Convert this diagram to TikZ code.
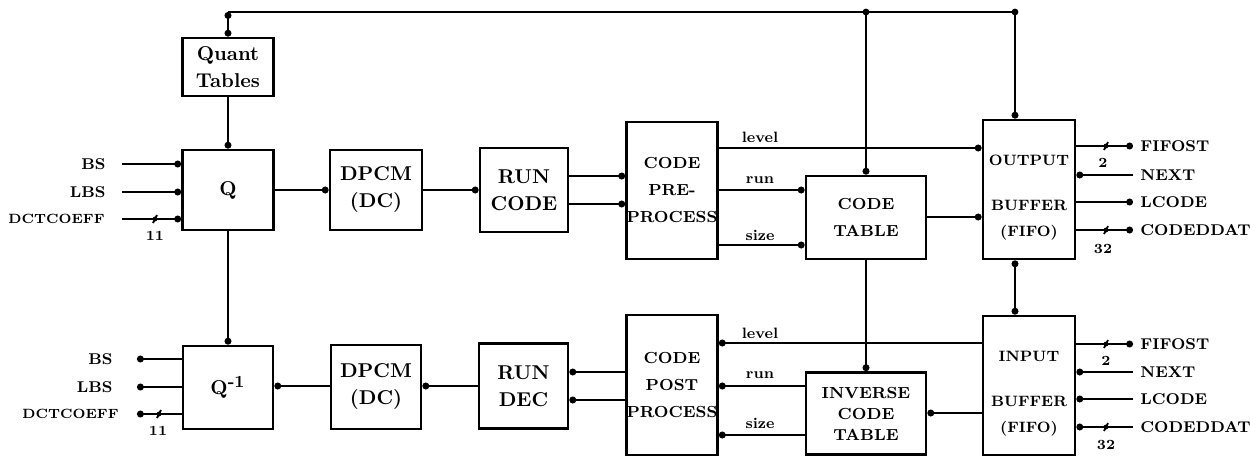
\documentclass[tikz,border=0pt]{standalone}
\usetikzlibrary{arrows.meta}
\begin{document}
\begin{tikzpicture}[x=0.5pt,y=-0.5pt,
  box/.style={draw, line width=1.4pt, inner sep=0pt, align=center, font=\bfseries\fontsize{10}{13.5}\selectfont},
  sbox/.style={box, font=\bfseries\fontsize{8}{13.5}\selectfont},
  wire/.style={line width=1.4pt},
  tip/.style={wire, -{Circle[length=3.4pt]}},
  tips/.style={wire, {Circle[length=3.4pt]}-{Circle[length=3.4pt]}},
  lbl/.style={inner sep=0pt, font=\bfseries\fontsize{7.8}{9}\selectfont},
  sig/.style={inner sep=0pt, font=\bfseries\fontsize{7.5}{9}\selectfont},
  num/.style={inner sep=0pt, font=\bfseries\fontsize{7}{8}\selectfont},
  busmark/.style={line width=0.9pt}
]
\useasboundingbox (0,0) rectangle (1250,457);

% boxes
\node[box, minimum width=45.5pt, minimum height=29pt] (quant) at (228,67) {Quant\\Tables};
\node[box, minimum width=45.5pt, minimum height=40pt] (q) at (228,190) {Q};
\node[box, minimum width=46pt, minimum height=40pt] (dpcm1) at (376,190) {DPCM\\(DC)};
\node[box, minimum width=44pt, minimum height=42pt] (runcode) at (524,190) {RUN\\CODE};
\node[sbox, minimum width=45pt, minimum height=68.5pt] (pre) at (672,190.5) {CODE\\PRE-\\PROCESS};
\node[sbox, minimum width=60pt, minimum height=41.5pt] (ctab) at (866,217.5) {CODE\\TABLE};
\node[sbox, minimum width=46pt, minimum height=69.5pt, font=\bfseries\fontsize{7.5}{13}\selectfont] (obuf) at (1029,189.5) {\rule{0pt}{13pt}OUTPUT\\[9.5pt]BUFFER\\(FIFO)};
\node[sbox, minimum width=46pt, minimum height=69.5pt, font=\bfseries\fontsize{7.5}{13}\selectfont] (ibuf) at (1029,385.5) {\rule{0pt}{13pt}INPUT\\[9.5pt]BUFFER\\(FIFO)};
\node[sbox, minimum width=60pt, minimum height=41pt, font=\bfseries\fontsize{8}{10.5}\selectfont] (ictab) at (866,413.5) {INVERSE\\CODE\\TABLE};
\node[sbox, minimum width=45pt, minimum height=70pt] (post) at (672,385) {CODE\\POST\\PROCESS};
\node[box, minimum width=44.5pt, minimum height=42.5pt] (rundec) at (523.5,386) {RUN\\DEC};
\node[box, minimum width=45pt, minimum height=42pt] (dpcm2) at (376,387) {DPCM\\(DC)};
\node[box, minimum width=45pt, minimum height=41.5pt] (qinv) at (228,387.5) {Q\textsuperscript{\fontsize{8.5}{9}\selectfont-1}};

% top bus
\coordinate (busL) at (228,12);
\coordinate (busM) at (866,12);
\coordinate (busR) at (1015,12);
\draw[wire] (busL) -- (busR);
\draw[tips] (busL) -- (busL |- quant.north);
\fill (busM) circle (1.7pt);
\draw[tip] (busM) -- (busM |- ctab.north);
\fill (busR) circle (1.7pt);
\draw[tip] (busR) -- (busR |- obuf.north);

% vertical links
\draw[tip] (quant.south) -- (q.north);
\draw[tip] (q.south) -- (qinv.north);
\draw[tip] (ctab.south) -- (ictab.north);
\draw[tips] (busR |- obuf.south) -- (busR |- ibuf.north);

% encoder chain
\draw[tip] (q.east) -- (dpcm1.west);
\draw[tip] (dpcm1.east) -- (runcode.west);
\draw[tip] ([yshift=7pt]runcode.east) -- ([yshift=7pt]runcode.east -| pre.west);
\draw[tip] ([yshift=-7pt]runcode.east) -- ([yshift=-7pt]runcode.east -| pre.west);
\coordinate (ylev1) at (0,148);
\coordinate (yrun1) at (0,190);
\coordinate (ysiz1) at (0,245);
\coordinate (ytab1) at (0,217);
\draw[tip] (pre.east |- ylev1) -- (obuf.west |- ylev1);
\draw[tip] (pre.east |- yrun1) -- (ctab.west |- yrun1);
\draw[tip] (pre.east |- ysiz1) -- (ctab.west |- ysiz1);
\draw[tip] (ctab.east |- ytab1) -- (obuf.west |- ytab1);
\node[sig] (lev1) at (760,137) {level};
\node[sig] (run1) at (760,180) {run};
\node[sig] (siz1) at (760,235) {size};

% decoder chain
\coordinate (ylev2) at (0,343);
\coordinate (yrun2) at (0,386);
\coordinate (ysiz2) at (0,435);
\coordinate (ytab2) at (0,413);
\draw[tip] (ibuf.west |- ylev2) -- (post.east |- ylev2);
\draw[tip] (ictab.west |- yrun2) -- (post.east |- yrun2);
\draw[tip] (ictab.west |- ysiz2) -- (post.east |- ysiz2);
\draw[tip] (ibuf.west |- ytab2) -- (ictab.east |- ytab2);
\node[sig] (lev2) at (760,333) {level};
\node[sig] (run2) at (760,375) {run};
\node[sig] (siz2) at (760,423) {size};
\coordinate (yp1) at (0,372);
\coordinate (yp2) at (0,400);
\draw[tip] (post.west |- yp1) -- (rundec.east |- yp1);
\draw[tip] (post.west |- yp2) -- (rundec.east |- yp2);
\draw[tip] (rundec.west |- yrun2) -- (dpcm2.east |- yrun2);
\draw[tip] (dpcm2.west |- yrun2) -- (qinv.east |- yrun2);

% Q inputs
\coordinate (bsI) at (122,164);
\coordinate (lbsI) at (122,192);
\coordinate (dctI) at (122,219);
\draw[tip] (bsI) -- (bsI -| q.west);
\draw[tip] (lbsI) -- (lbsI -| q.west);
\draw[tip] (dctI) -- (dctI -| q.west);
\node[lbl, anchor=east] (bsIl) at (106,164) {BS};
\node[lbl, anchor=east] (lbsIl) at (106,192) {LBS};
\node[lbl, anchor=east, font=\bfseries\fontsize{6.7}{8}\selectfont] (dctIl) at (105,219) {DCTCOEFF};
\coordinate (m1) at (155,219);
\fill (m1) circle (1.2pt);
\draw[busmark] (m1) ++(-2,4) -- ++(4,-8);
\node[num] (n11a) at (155,236) {11};

% Q^-1 outputs
\coordinate (bsO) at (137,359);
\coordinate (lbsO) at (137,387);
\coordinate (dctO) at (137,414);
\draw[tip] (bsO -| qinv.west) -- (bsO);
\draw[tip] (lbsO -| qinv.west) -- (lbsO);
\draw[tip] (dctO -| qinv.west) -- (dctO);
\node[lbl, anchor=east] (bsOl) at (113,359) {BS};
\node[lbl, anchor=east] (lbsOl) at (113,387) {LBS};
\node[lbl, anchor=east, font=\bfseries\fontsize{6.7}{8}\selectfont] (dctOl) at (119,414) {DCTCOEFF};
\coordinate (m2) at (159,414);
\fill (m2) circle (1.2pt);
\draw[busmark] (m2) ++(-2,4) -- ++(4,-8);
\node[num] (n11b) at (158,431) {11};

% output buffer signals
\coordinate (ofs) at (1133,146);
\coordinate (onx) at (1133,175);
\coordinate (olc) at (1133,202);
\coordinate (ocd) at (1133,230);
\draw[tip] (ofs -| obuf.east) -- (ofs);
\draw[tip] (onx) -- (onx -| obuf.east);
\draw[tip] (olc -| obuf.east) -- (olc);
\draw[tip] (ocd -| obuf.east) -- (ocd);
\node[lbl, anchor=west] (ofsl) at (1140,146) {FIFOST};
\node[lbl, anchor=west] (onxl) at (1140,175) {NEXT};
\node[lbl, anchor=west] (olcl) at (1140,202) {LCODE};
\node[lbl, anchor=west] (ocdl) at (1140,230) {CODEDDAT};
\coordinate (m3) at (1106,146);
\fill (m3) circle (1.2pt);
\draw[busmark] (m3) ++(-2,4) -- ++(4,-8);
\coordinate (m4) at (1106,230);
\fill (m4) circle (1.2pt);
\draw[busmark] (m4) ++(-2,4) -- ++(4,-8);
\node[num] (n2a) at (1103,163) {2};
\node[num] (n32a) at (1103,249) {32};

% input buffer signals
\coordinate (ifs) at (1133,344);
\coordinate (inx) at (1133,372);
\coordinate (ilc) at (1133,399);
\coordinate (icd) at (1133,427);
\draw[tip] (ifs -| ibuf.east) -- (ifs);
\draw[tip] (inx) -- (inx -| ibuf.east);
\draw[tip] (ilc) -- (ilc -| ibuf.east);
\draw[tip] (icd) -- (icd -| ibuf.east);
\node[lbl, anchor=west] (ifsl) at (1140,344) {FIFOST};
\node[lbl, anchor=west] (inxl) at (1140,372) {NEXT};
\node[lbl, anchor=west] (ilcl) at (1140,399) {LCODE};
\node[lbl, anchor=west] (icdl) at (1140,427) {CODEDDAT};
\coordinate (m5) at (1106,344);
\fill (m5) circle (1.2pt);
\draw[busmark] (m5) ++(-2,4) -- ++(4,-8);
\coordinate (m6) at (1106,427);
\fill (m6) circle (1.2pt);
\draw[busmark] (m6) ++(-2,4) -- ++(4,-8);
\node[num] (n2b) at (1106,361) {2};
\node[num] (n32b) at (1106,445) {32};
\end{tikzpicture}
\end{document}
